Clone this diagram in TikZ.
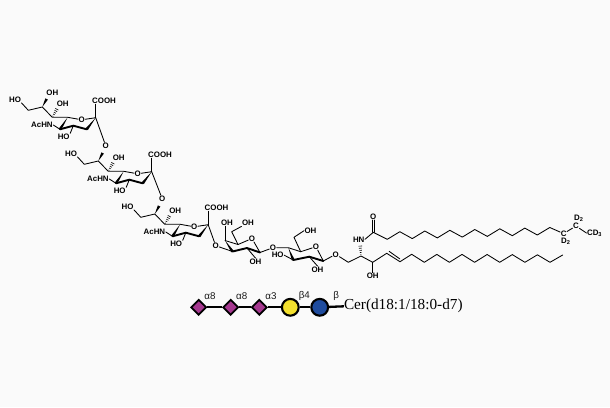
\documentclass[tikz,border=0pt]{standalone}
\usepackage{fontspec}
\setmainfont{Liberation Sans}
\newfontfamily\cerfont{Liberation Serif}
\usetikzlibrary{calc,shapes.geometric}
\definecolor{bgc}{HTML}{FAFAFA}
\definecolor{sugarpurple}{HTML}{A5388F}
\definecolor{sugaryellow}{HTML}{F4E12E}
\definecolor{sugarblue}{HTML}{1F4C9E}
\definecolor{linkgray}{HTML}{1A1A1A}
\newcommand{\sbs}[1]{\raisebox{-1.4pt}{\fontsize{5.6}{5.6}\selectfont #1}}
% wedge: narrow at #1, wide at #2
\newcommand{\wdg}[2]{\fill[black] (#1) -- ($(#2)!1.4pt!90:(#1)$) -- ($(#2)!1.4pt!-90:(#1)$) -- cycle;}
% hashed wedge
\newcommand{\hsh}[2]{\foreach \t/\w in {0.12/0.5,0.3/0.9,0.48/1.2,0.66/1.5,0.84/1.8,1/2.1}{\draw[line width=0.6pt] ($(#1)!\t!(#2)!\w pt!90:(#2)$) -- ($(#1)!\t!(#2)!\w pt!-90:(#2)$);}}
\tikzset{
  atom/.style={font=\bfseries\fontsize{7.9}{8.5}\selectfont, inner sep=0.4pt, text=black},
  bond/.style={line width=0.85pt, line join=round, line cap=round, draw=black},
  thickbond/.style={line width=1.9pt, line cap=round, draw=black},
  link/.style={line width=2.3pt, draw=black},
  dia/.style={draw=black, line width=1.8pt, line join=miter, fill=sugarpurple, shape=diamond, inner sep=0pt, minimum size=15.6pt},
  sugarc/.style={draw=black, line width=2.1pt, shape=circle, inner sep=0pt, minimum size=16.8pt},
  linklabel/.style={font=\fontsize{9.8}{10}\selectfont, text=linkgray, inner sep=0pt}
}
% neuraminic unit: #1 prefix, #2 dx, #3 dy, #4 top label
\newcommand{\neuunit}[4]{%
\begin{scope}[shift={(#2,#3)}, name prefix=#1-]
  \node[atom] (h9) at (15,99.5) {HO};
  \coordinate (c9) at (28.3,110.3);
  \coordinate (c8) at (42.3,107);
  \node[atom] (top) at #4;
  \coordinate (tw) at (46.6,99);
  \coordinate (c7) at (52.3,117.3);
  \node[atom] (oh7) at (62.7,103.3) {OH};
  \coordinate (hw) at (57.7,107.7);
  \coordinate (c6) at (67.7,117.3);
  \node[atom] (o6) at (81.7,119.8) {O};
  \coordinate (c2) at (95.7,117.7);
  \coordinate (c3) at (86.7,129.3);
  \coordinate (c4) at (73.3,125.7);
  \coordinate (c5) at (60,129.3);
  \node[atom, anchor=east] (ach) at (53.3,125) {AcHN};
  \node[atom] (ho4) at (63.7,136.7) {HO};
  \node[atom] (cooh) at (104,101) {COOH};
  \draw[bond] (h9.south east) -- (c9) -- (c8) -- (c7) -- (c6) -- (o6) -- (c2);
  \wdg{c8}{tw}
  \hsh{c7}{hw}
  \wdg{c6}{c5}
  \wdg{c2}{c3}
  \draw[thickbond] (c5) -- (c4) -- (c3);
  \draw[bond] (ach.east) -- (c5);
  \draw[bond] (c4) -- (ho4.north east);
  \draw[bond] (c2) -- (c2 |- cooh.south);
\end{scope}}
\begin{document}
\begin{tikzpicture}[x=1pt,y=-1pt]
\useasboundingbox (0,0) rectangle (610,407);
\fill[bgc] (0,0) rectangle (610,407);

\neuunit{u1}{0}{0}{(52.4,92.7) {OH}}
\neuunit{u2}{56}{54}{(49.7,91.7) {O}}
\neuunit{u3}{112.5}{107}{(49.7,91.7) {O}}
\draw[bond] (u1-c2) -- (u2-top);
\draw[bond] (u2-c2) -- (u3-top);

% galactose
\node[atom] (og) at (215.7,245.7) {O};
\coordinate (g4) at (225,240.5);
\coordinate (g3) at (232.5,251.5);
\coordinate (g2) at (247,248);
\coordinate (g1) at (260,252.5);
\node[atom] (go) at (252,238.5) {O};
\coordinate (g5) at (238,244.5);
\coordinate (g6) at (231.7,231.7);
\node[atom] (goh4) at (227,223) {OH};
\node[atom] (goh6) at (248,223) {OH};
\node[atom] (goh2) at (255.5,261.5) {OH};
\node[atom] (ol) at (273,247.7) {O};
\draw[bond] (u3-c2) -- (og);
\draw[bond] (og) -- (g3);
\draw[bond] (g4) -- (g5) -- (go) -- (g1) -- (ol);
\draw[bond] (g5) -- (g6) -- (goh6.south west);
\draw[bond] (g4) -- (g4 |- goh4.south);
\draw[bond] (g2) -- (goh2.north);
\wdg{g4}{g3}
\draw[thickbond] (g3) -- (g2) -- (g1);

% glucose
\coordinate (k4) at (288.3,247.7);
\coordinate (k3) at (293.3,260);
\coordinate (k2) at (309.3,256.7);
\coordinate (k1) at (323.3,261);
\node[atom] (ko) at (316,246.7) {O};
\coordinate (k5) at (300.7,251.7);
\coordinate (k6) at (294,237.3);
\node[atom] (koh6) at (310.5,230.7) {OH};
\node[atom] (kho3) at (277.7,255.2) {HO};
\node[atom] (koh2) at (317.5,269.5) {OH};
\node[atom] (ol2) at (335.7,254.3) {O};
\draw[bond] (ol) -- (k4) -- (k5) -- (ko) -- (k1) -- (ol2);
\draw[bond] (k5) -- (k6) -- (koh6.west);
\draw[bond] (k3) -- (kho3.east);
\draw[bond] (k2) -- (koh2.north);
\wdg{k4}{k3}
\draw[thickbond] (k3) -- (k2) -- (k1);

% ceramide
\coordinate (s1) at (348.3,262.3);
\coordinate (s2) at (361,256);
\coordinate (s3) at (372.7,262.3);
\coordinate (s4) at (386.7,253.3);
\coordinate (s5) at (400,261.7);
\node[atom] (hn) at (358.7,239.3) {HN};
\node[atom] (soh) at (372.7,276) {OH};
\coordinate (a1) at (373.3,232.3);
\node[atom] (ao) at (373.3,216.7) {O};
\coordinate (hw2) at (360.2,244.2);
\draw[bond] (ol2) -- (s1) -- (s2) -- (s3) -- (s4) -- (s5);
\draw[bond] ($(s4)+(2.4,-2)$) -- ($(s5)+(-0.2,-2.8)$);
\draw[bond] (s5) -- (411.7,254.3) -- (424.3,262.3) -- (436.8,254.4) -- (449.4,262.3) -- (462,254.4) -- (474.6,262.3) -- (487.1,254.5) -- (499.7,262.3) -- (512.3,254.6) -- (524.9,262.3) -- (537.4,254.8) -- (550,262.3) -- (562.7,255);
\draw[bond] (s3) -- (soh.north);
\hsh{s2}{hw2}
\draw[bond] (hn.east) -- (a1);
\draw[bond] ($(a1)+(-1.1,0)$) -- ($(ao.south)+(-1.1,0)$);
\draw[bond] ($(a1)+(1.1,0)$) -- ($(ao.south)+(1.1,0)$);

\node[atom] (cd1) at (563.6,233.6) {C};
\node[atom] (cd2) at (576,226) {C};
\node[atom] (dd1) at (565.5,241.3) {D\sbs{2}};
\node[atom] (dd2) at (578.5,218.3) {D\sbs{2}};
\node[atom] (cd3) at (594.3,233) {CD\sbs{3}};
\draw[bond] (a1) -- (387.3,239.3) -- (399.8,231.7) -- (412.3,238.6) -- (424.8,231) -- (437.3,237.9) -- (449.8,230.3) -- (462.3,237.1) -- (474.8,229.5) -- (487.3,236.4) -- (499.8,228.8) -- (512.3,235.7) -- (524.8,228.1) -- (537.3,235) -- (549.8,227.5) -- (cd1);
\draw[bond] (cd1) -- (cd2);
\draw[bond] (cd2) -- (cd3.west);

% glycan symbols
\node[dia] (s-a) at (198.7,307.3) {};
\node[dia] (s-b) at (230.7,307.3) {};
\node[dia] (s-c) at (259.3,307.3) {};
\node[sugarc, fill=sugaryellow] (s-d) at (290.3,307.3) {};
\node[sugarc, fill=sugarblue] (s-e) at (319.7,307.3) {};
\node[font=\cerfont\fontsize{15.25}{16}\selectfont, anchor=west, inner sep=0pt] (cer) at (343.8,306.3) {Cer(d18:1/18:0-d7)};
\draw[link] (s-a) -- (s-b);
\draw[link] (s-b) -- (s-c);
\draw[link] (s-c) -- (s-d);
\draw[link] (s-d) -- (s-e);
\draw[link] (s-e) -- (cer.west);
\node[linklabel] (l1) at (210,295.7) {α8};
\node[linklabel] (l2) at (241.7,295.7) {α8};
\node[linklabel] (l3) at (271,295.7) {α3};
\node[linklabel] (l4) at (304.3,295.5) {β4};
\node[linklabel] (l5) at (336.3,295.5) {β};
\end{tikzpicture}
\end{document}
